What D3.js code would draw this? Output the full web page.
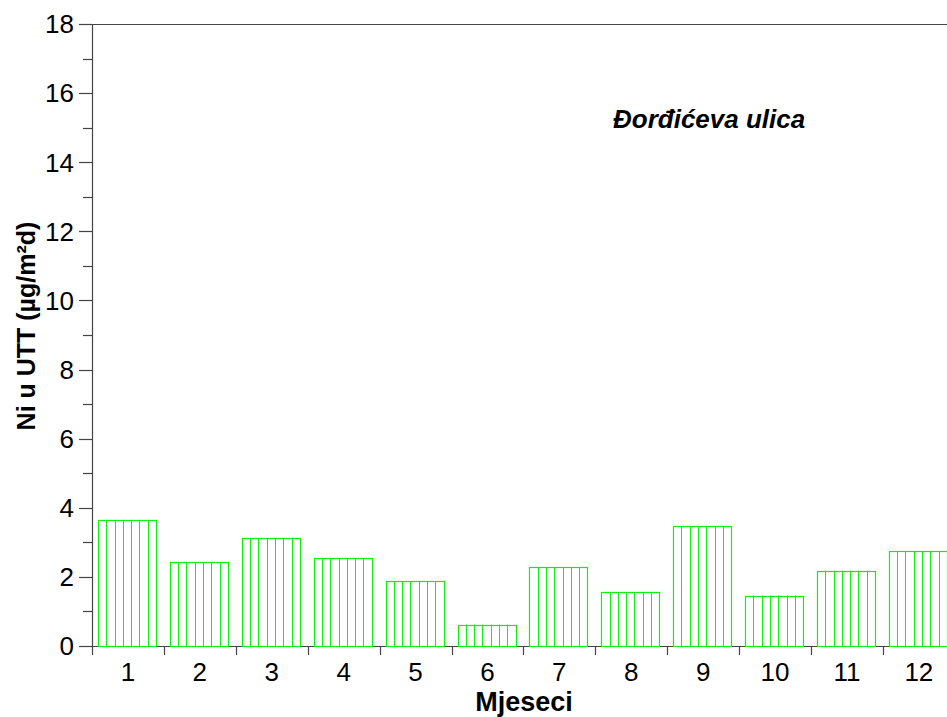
<!DOCTYPE html>
<html><head><meta charset="utf-8">
<script src="https://cdn.jsdelivr.net/npm/d3@7"></script>
<style>
html,body{margin:0;padding:0;background:#fff;}
svg{display:block;font-family:"Liberation Sans",Arial,sans-serif;}
</style></head>
<body>
<svg id="c" width="947" height="717"></svg>
<script>
const months = ["1","2","3","4","5","6","7","8","9","10","11","12"];
const values = [3.65, 2.42, 3.13, 2.55, 1.88, 0.62, 2.28, 1.56, 3.47, 1.46, 2.18, 2.74];
const yTicks = [0,2,4,6,8,10,12,14,16,18];
const yTitle = "Ni u UTT (µg/m²d)";
const xTitle = "Mjeseci";
const label = "Đorđićeva ulica";

(function(){
const svg = d3.select("#c");
const mLeft = 92, mTop = 24, mBottom = 646, step = 71.9;
const x = d3.scaleBand().domain(months).range([mLeft, mLeft + step*months.length]).padding(0);
const y = d3.scaleLinear().domain([0,18]).range([mBottom, mTop]);
const axisCol = "#444";
const green = "#11ee11";

// y axis
const ya = svg.append("g");
ya.append("line").attr("x1",mLeft+0.5).attr("x2",mLeft+0.5).attr("y1",mTop).attr("y2",mBottom+9)
  .attr("stroke",axisCol).attr("stroke-width",1.2);
d3.range(0,19,1).forEach(v=>{
  const major = v%2===0;
  const yy = Math.round(y(v))+0.5;
  ya.append("line").attr("x1",mLeft - (major?13:9)).attr("x2",mLeft).attr("y1",yy).attr("y2",yy)
    .attr("stroke",axisCol).attr("stroke-width",1.2);
});
yTicks.forEach(v=>{
  ya.append("text").attr("x",74).attr("y",y(v)).attr("dy","0.36em")
    .attr("text-anchor","end").attr("font-size",26).attr("fill","#000").text(v);
});
svg.append("line").attr("x1",mLeft).attr("x2",947).attr("y1",mTop+0.5).attr("y2",mTop+0.5)
  .attr("stroke",axisCol).attr("stroke-width",1.2);

// x axis
const xa = svg.append("g");
xa.append("line").attr("x1",mLeft).attr("x2",947).attr("y1",mBottom+0.5).attr("y2",mBottom+0.5)
  .attr("stroke",axisCol).attr("stroke-width",1.2);
months.forEach((m,i)=>{
  const tx = Math.round(x(m))+0.5;
  if(i>0) xa.append("line").attr("x1",tx).attr("x2",tx).attr("y1",mBottom).attr("y2",mBottom+9)
    .attr("stroke",axisCol).attr("stroke-width",1.2);
  xa.append("text").attr("x",x(m)+x.bandwidth()/2).attr("y",681)
    .attr("text-anchor","middle").attr("font-size",26).attr("fill","#000").text(m);
});

// bars
const barOff = 6, barW = 58;
const g = svg.append("g");
months.forEach((m,i)=>{
  const bx = x(m) + barOff, by = y(values[i]), bh = y(0) - y(values[i]);
  const n = 7;
  for(let k=1;k<n;k++){
    const lx = Math.round(bx + k*barW/n) + 0.5;
    g.append("line").attr("x1",lx).attr("x2",lx).attr("y1",by).attr("y2",y(0))
      .attr("stroke",green).attr("stroke-width",1);
  }
  g.append("rect").attr("x",Math.round(bx)+0.5).attr("y",Math.round(by)+0.5)
    .attr("width",barW).attr("height",Math.round(bh))
    .attr("fill","none").attr("stroke",green).attr("stroke-width",1.2);
});

// titles
svg.append("text").attr("x",524).attr("y",711).attr("text-anchor","middle")
  .attr("font-size",27).attr("font-weight","bold").attr("fill","#000").text(xTitle);
svg.append("text").attr("transform","translate(35,326) rotate(-90)").attr("text-anchor","middle")
  .attr("font-size",25).attr("font-weight","bold").attr("fill","#000").text(yTitle);
svg.append("text").attr("x",613).attr("y",128)
  .attr("font-size",26).attr("font-weight","bold").attr("font-style","italic").attr("fill","#000").text(label);
})();
</script>
</body></html>
